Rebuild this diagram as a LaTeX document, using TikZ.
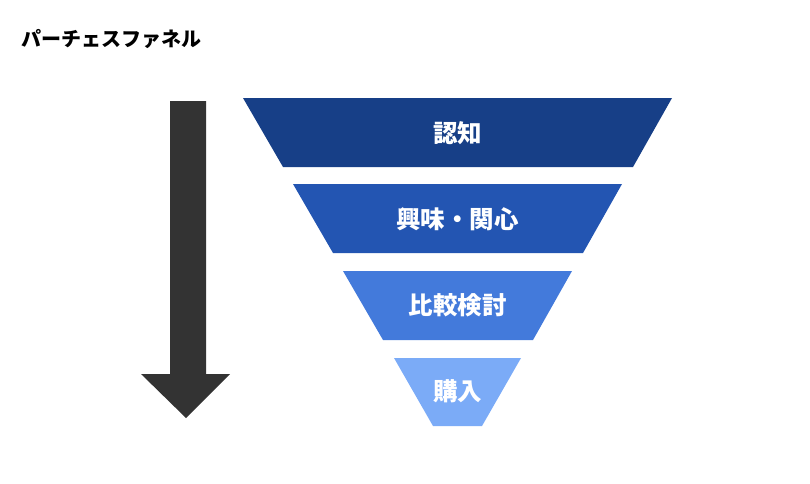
\documentclass[tikz,border=0pt]{standalone}
\usepackage{fontspec}
\setmainfont{Noto Sans CJK JP}
\begin{document}
\begin{tikzpicture}[x=1pt,y=-1pt,
  stagetext/.style={text=white,font=\fontsize{24.5}{28}\selectfont\bfseries,anchor=center,inner sep=0pt}]
\useasboundingbox (0,0) rectangle (810,483);
\definecolor{c1}{HTML}{173F87}
\definecolor{c2}{HTML}{2355B2}
\definecolor{c3}{HTML}{437ADB}
\definecolor{c4}{HTML}{7BABF7}
\definecolor{arr}{HTML}{333333}
\node[anchor=west,inner sep=0pt,font=\fontsize{20}{24}\selectfont\bfseries] (title) at (21,39) {パーチェスファネル};
% arrow
\fill[arr] (170,101) -- (206,101) -- (206,374) -- (230,374) -- (186,418) -- (141,374) -- (170,374) -- cycle;
\coordinate (atip) at (186,418);
% funnel
\fill[c1] (243,98) -- (672,98) -- (633,167) -- (283,167) -- cycle;
\fill[c2] (293,184) -- (622,184) -- (583,253) -- (333,253) -- cycle;
\fill[c3] (343,271) -- (572,271) -- (533,340) -- (383,340) -- cycle;
\fill[c4] (394,358) -- (521,358) -- (482,426) -- (433,426) -- cycle;
\node[stagetext] (s1) at (457.5,133) {認知};
\node[stagetext] (s2) at (457.5,219) {興味・関心};
\node[stagetext] (s3) at (457.5,305) {比較検討};
\node[stagetext] (s4) at (457.5,391) {購入};
\end{tikzpicture}
\end{document}
